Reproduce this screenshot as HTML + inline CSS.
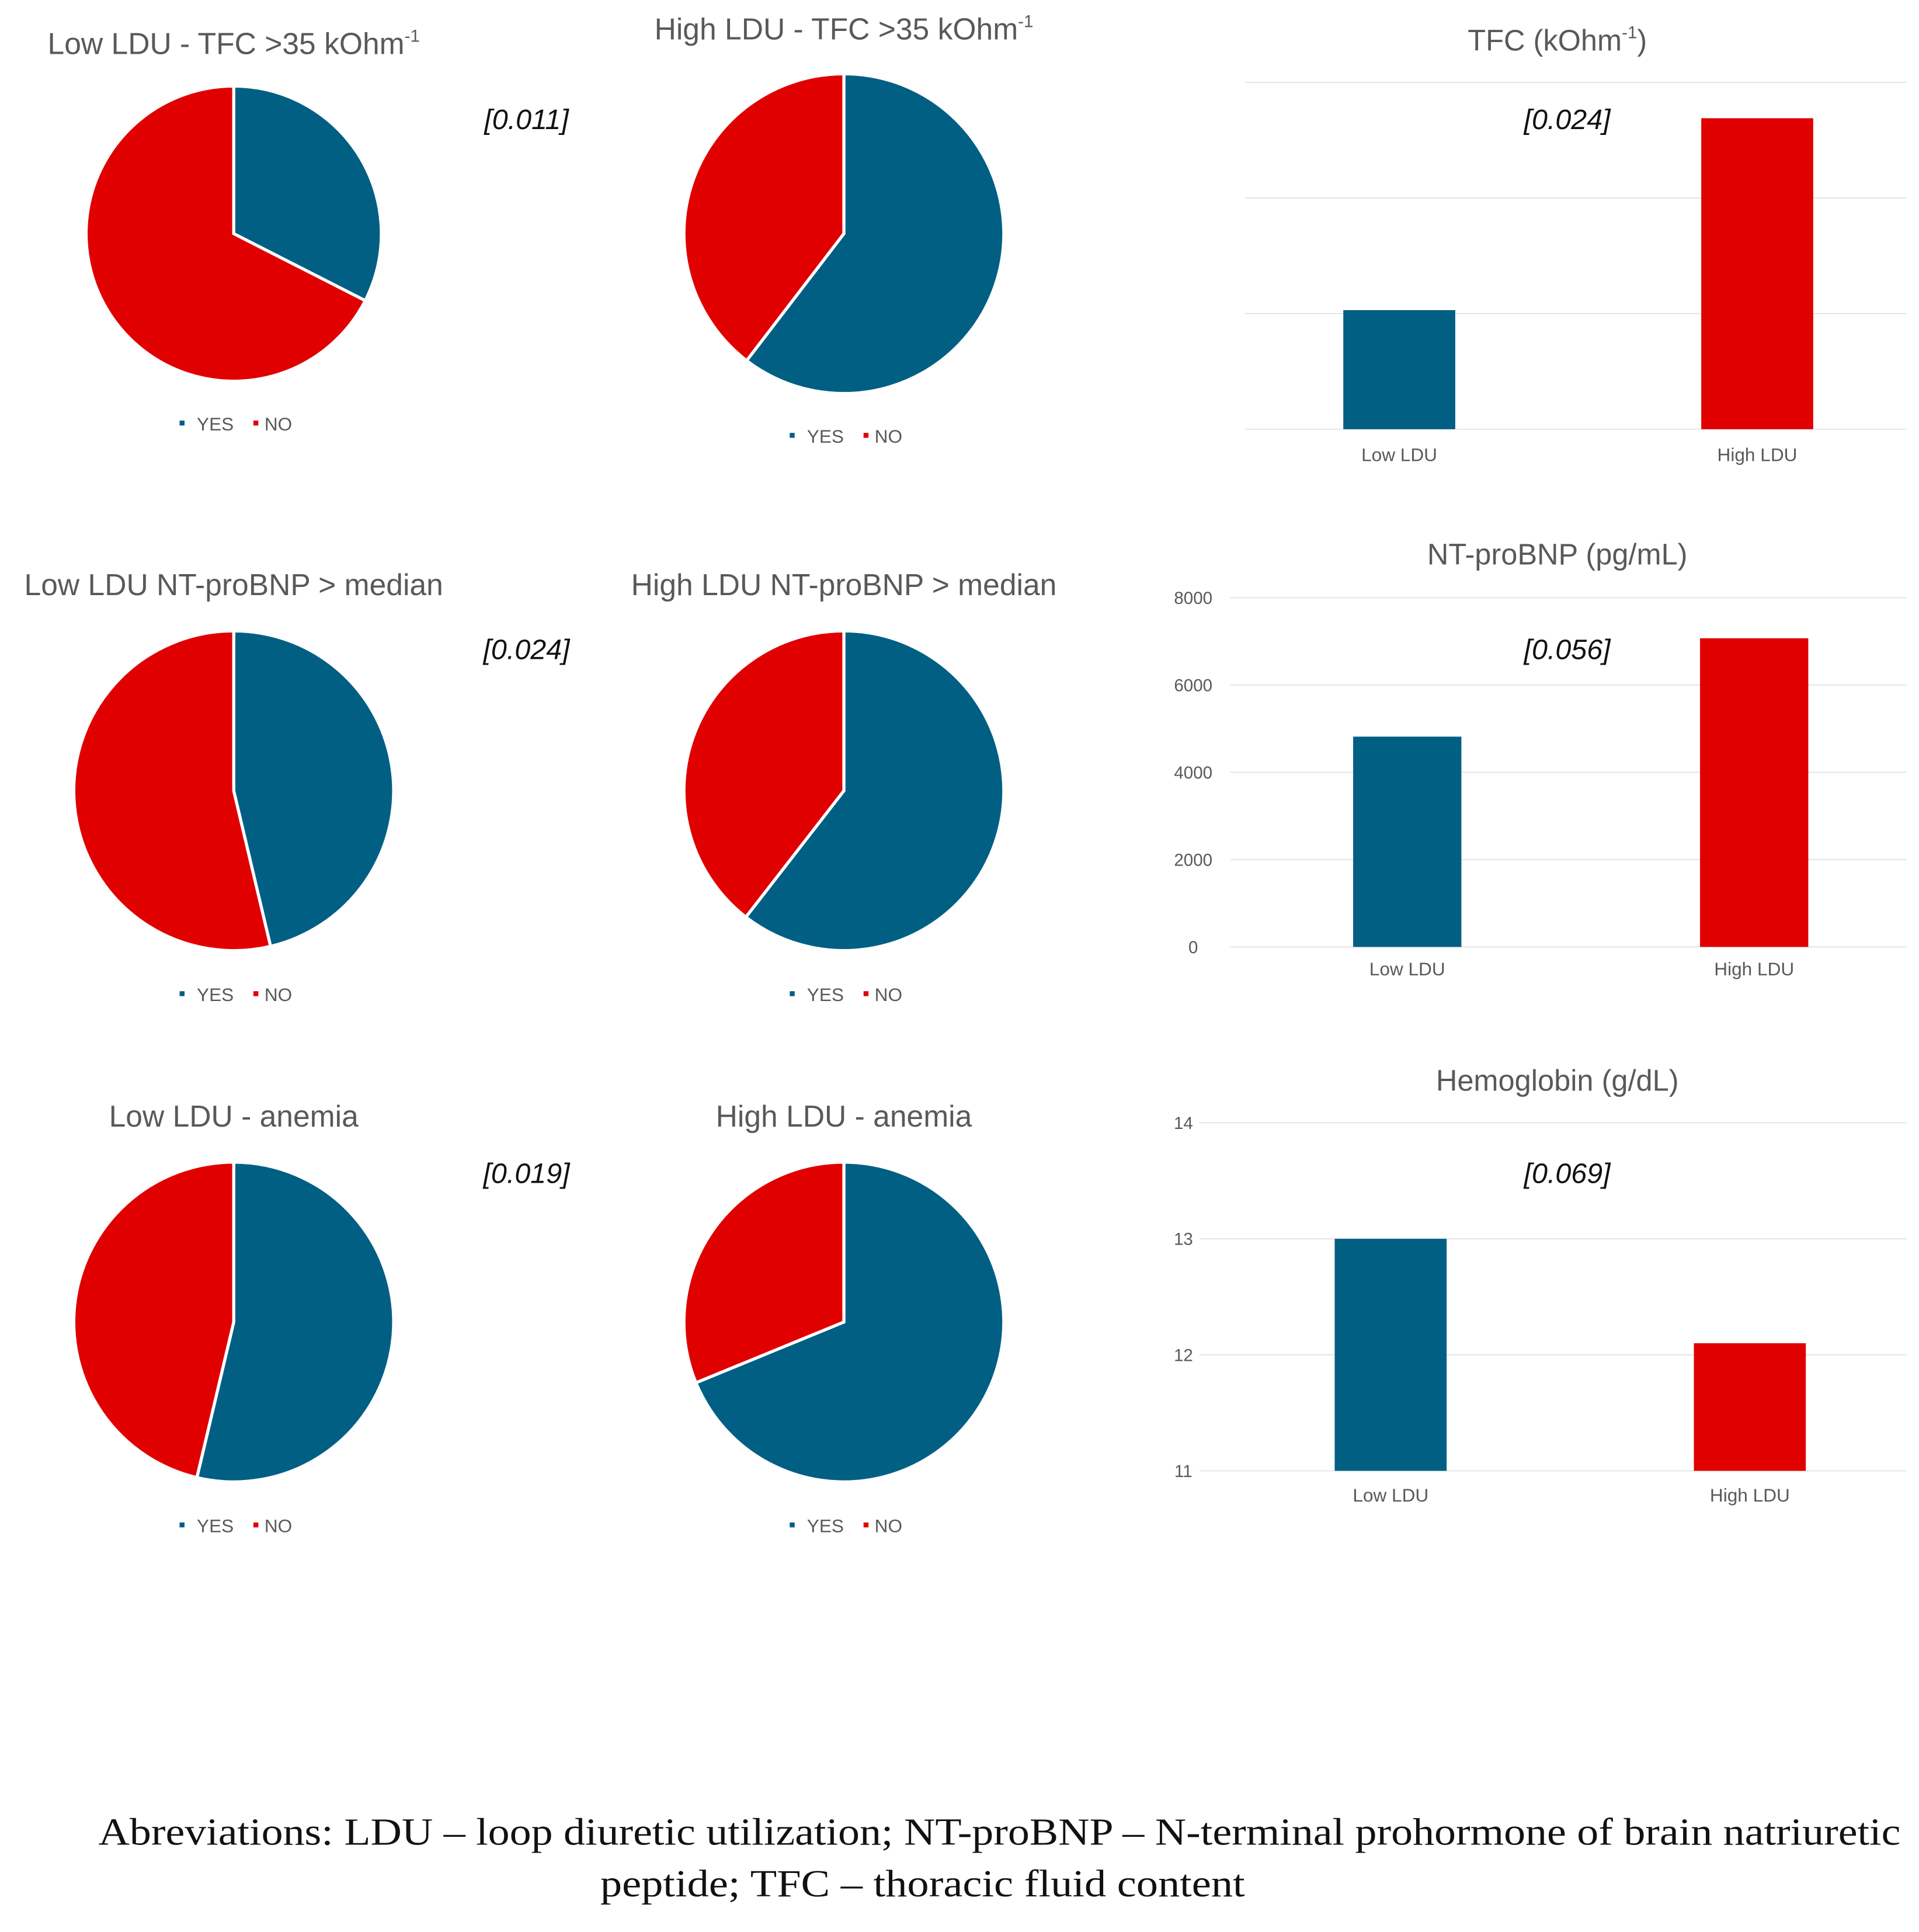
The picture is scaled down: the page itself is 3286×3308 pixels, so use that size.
<!DOCTYPE html>
<html><head><meta charset="utf-8"><style>
html,body{margin:0;padding:0;background:#fff}
svg{display:block}
text{font-family:"Liberation Sans",sans-serif}
</style></head><body>
<svg id="c" width="3286" height="3308" viewBox="0 0 1560 1571" preserveAspectRatio="none" xmlns="http://www.w3.org/2000/svg">
<text x="80" y="1500" textLength="1465" lengthAdjust="spacingAndGlyphs" font-size="31" fill="#111" style="font-family:'Liberation Serif',serif">Abreviations: LDU – loop diuretic utilization; NT-proBNP – N-terminal prohormone of brain natriuretic</text>
<text x="488" y="1542" textLength="524" lengthAdjust="spacingAndGlyphs" font-size="31" fill="#111" style="font-family:'Liberation Serif',serif">peptide;  TFC – thoracic fluid content</text>
</svg>
<script>
const pieTitles=["Low LDU - TFC >35 kOhm","High LDU - TFC >35 kOhm","Low LDU NT-proBNP > median","High LDU NT-proBNP > median","Low LDU - anemia","High LDU - anemia"];
const pieYes=[32.5,60.4,46.3,60.5,53.7,68.8];
const pValues=["[0.011]","[0.024]","[0.019]"];
const barCats=["Low LDU","High LDU"];
const tfcValues=[30.3,46.9];
const tfcTicks=[20,30,40,50];
const bnpValues=[4817,7070];
const bnpTicks=[0,2000,4000,6000,8000];
const hbValues=[13.0,12.1];
const hbTicks=[11,12,13,14];
const barP=["[0.024]","[0.056]","[0.069]"];

const NS="http://www.w3.org/2000/svg";
const svg=document.getElementById('c');
const BLUE="#005f83",RED="#e00000",GRAY="#595959";
function mk(t,a,txt){const e=document.createElementNS(NS,t);for(const k in a)e.setAttribute(k,a[k]);if(txt!=null)e.textContent=txt;svg.appendChild(e);return e;}

const pieLayout=[[190,190,120,35,345],[686,190,130,23,355],[190,643,130,475,809],[686,643,130,475,809],[190,1075,130,907,1241],[686,1075,130,907,1241]];
pieTitles.forEach((t,i)=>{
  const [cx,cy,r,ty,ly]=pieLayout[i];
  const tt=mk('text',{x:cx,y:ty+9,'text-anchor':'middle','font-size':24.5,fill:GRAY});
  
  
  tt.textContent=t;
  if(i<2){const s=document.createElementNS(NS,'tspan');s.setAttribute('font-size',14);s.setAttribute('dy',-10);s.textContent='-1';tt.appendChild(s);}
  const a=pieYes[i]/100*2*Math.PI;
  const ex=cx+r*Math.sin(a),ey=cy-r*Math.cos(a);
  const large=pieYes[i]>50?1:0;
  const y=mk('path',{d:`M${cx},${cy}L${cx},${cy-r}A${r},${r} 0 ${large} 1 ${ex},${ey}Z`,fill:BLUE,stroke:'#fff','stroke-width':2.5});
  
  
  const n=mk('path',{d:`M${cx},${cy}L${ex},${ey}A${r},${r} 0 ${1-large} 1 ${cx},${cy-r}Z`,fill:RED,stroke:'#fff','stroke-width':2.5});
  
  
  const l1=mk('rect',{x:cx-44,y:ly-3,width:4,height:4,fill:BLUE});
  
  
  const l2=mk('text',{x:cx-30,y:ly+5,'font-size':15,fill:GRAY},'YES');
  
  
  const l3=mk('rect',{x:cx+16,y:ly-3,width:4,height:4,fill:RED});
  
  
  const l4=mk('text',{x:cx+25,y:ly+5,'font-size':15,fill:GRAY},'NO');
  
  
});
[97,528,954].forEach((y,i)=>{
  const t=mk('text',{x:428,y:y+8,'text-anchor':'middle','font-size':23,'font-style':'italic',fill:'#111'},pValues[i]);
  
  
});

function barChart(o){
  const {title,values,ticks,top,bottom,gx0,gx1,bars,tickX,catY,titleY,pY,idx}=o;
  const lo=ticks[0],hi=ticks[ticks.length-1];
  const yS=v=>bottom-(v-lo)/(hi-lo)*(bottom-top);
  const tt=mk('text',{x:1266,y:titleY+9,'text-anchor':'middle','font-size':24,fill:GRAY});
  
  
  if(idx===1){tt.textContent='TFC (kOhm';const s=document.createElementNS(NS,'tspan');s.setAttribute('font-size',14);s.setAttribute('dy',-10);s.textContent='-1';tt.appendChild(s);const s2=document.createElementNS(NS,'tspan');s2.setAttribute('dy',10);s2.textContent=')';tt.appendChild(s2);}
  else tt.textContent=title;
  ticks.forEach(t=>{
    const g=mk('line',{x1:gx0,x2:gx1,y1:yS(t),y2:yS(t),stroke:'#e6e6e6','stroke-width':1});
    
    
    if(tickX){
      const l=mk('text',{x:tickX,y:yS(t)+5,'text-anchor':'middle','font-size':14,fill:GRAY},String(t));
      
      
    }
  });
  values.forEach((v,i)=>{
    const [x0,w]=bars[i];
    const b=mk('rect',{x:x0,y:yS(v),width:w,height:bottom-yS(v),fill:i===0?BLUE:RED});
    
    
    const c=mk('text',{x:x0+w/2,y:catY+5,'text-anchor':'middle','font-size':15,fill:GRAY},barCats[i]);
    
    
  });
  const p=mk('text',{x:1274,y:pY+8,'text-anchor':'middle','font-size':23,'font-style':'italic',fill:'#111'},barP[idx-1]);
  
  
}
barChart({idx:1,title:'TFC',values:tfcValues,ticks:tfcTicks,top:67,bottom:349,gx0:1012,gx1:1550,bars:[[1092,91],[1383,91]],tickX:0,catY:370,titleY:32,pY:97});
barChart({idx:2,title:'NT-proBNP (pg/mL)',values:bnpValues,ticks:bnpTicks,top:486,bottom:770,gx0:1000,gx1:1550,bars:[[1100,88],[1382,88]],tickX:970,catY:788,titleY:450,pY:528});
barChart({idx:3,title:'Hemoglobin  (g/dL)',values:hbValues,ticks:hbTicks,top:913,bottom:1196,gx0:975,gx1:1550,bars:[[1085,91],[1377,91]],tickX:962,catY:1216,titleY:878,pY:954});
</script>
</body></html>
